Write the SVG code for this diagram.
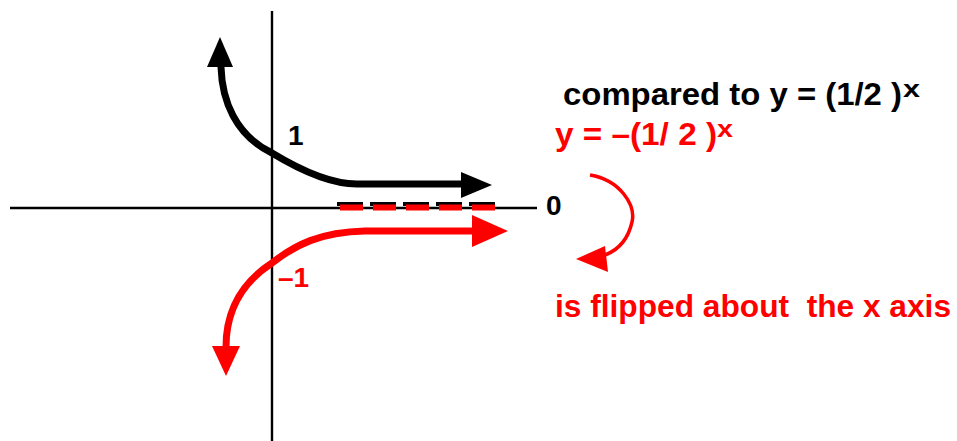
<svg xmlns="http://www.w3.org/2000/svg" width="957" height="441" viewBox="0 0 957 441">
<style>
  .axis{stroke:#000;stroke-width:2.4;fill:none}
  .blk{stroke:#000;stroke-width:7;fill:none}
  .red{stroke:#ff0000;stroke-width:7;fill:none}
  .t{font-family:"Liberation Sans",Arial,sans-serif;font-weight:bold;white-space:pre}
  .tb{fill:#000}
  .tr{fill:#ff0000}
</style>
<rect width="957" height="441" fill="#fff"/>
<g id="axes">
  <line class="axis" x1="272" y1="11" x2="272" y2="441"/>
  <line class="axis" x1="10" y1="208" x2="537" y2="208"/>
</g>
<g id="connectors">
  <g id="asymptote">
    <line x1="337" y1="204" x2="495" y2="204" stroke="#000" stroke-width="4" stroke-dasharray="26 7"/>
    <line x1="340" y1="207.5" x2="495" y2="207.5" stroke="#ff0000" stroke-width="6" stroke-dasharray="23 10"/>
  </g>
  <g id="black-curve">
    <path class="blk" d="M221,67 C222,100 235,135 272,153 C300,170 330,184 357,184 L462,184"/>
    <polygon points="220,37 207,67 233,67" fill="#000"/>
    <polygon points="492,185 461,172 461,198" fill="#000"/>
  </g>
  <g id="red-curve">
    <path class="red" d="M226,347 C226,315 238,285 272,263 C295,245 320,232 365,231 L473,231"/>
    <polygon points="508,231 472,215 472,247" fill="#ff0000"/>
    <polygon points="226,376 212,346 240,346" fill="#ff0000"/>
  </g>
  <g id="flip-arrow">
    <path d="M590,175 C620,180 636,205 632,222 C628,240 618,250 605,255" stroke="#ff0000" stroke-width="3.5" fill="none"/>
    <polygon points="576,259 605,246 608,272" fill="#ff0000"/>
  </g>
</g>
<g id="label-1"><text class="t tb" x="288" y="145" font-size="28">1</text></g>
<g id="label-0"><text class="t tb" x="546" y="215" font-size="28">0</text></g>
<g id="label-minus1"><text class="t tr" x="278" y="287" font-size="28">–1</text></g>
<g id="label-compared">
  <text class="t tb" x="563" y="105" font-size="32" textLength="339" lengthAdjust="spacingAndGlyphs">compared to y = (1/2 )</text>
  <text class="t tb" x="903" y="97" font-size="24" textLength="17" lengthAdjust="spacingAndGlyphs">x</text>
</g>
<g id="label-red-eq">
  <text class="t tr" x="555" y="145" font-size="32" textLength="162" lengthAdjust="spacingAndGlyphs">y = –(1/ 2 )</text>
  <text class="t tr" x="717" y="137" font-size="24" textLength="16" lengthAdjust="spacingAndGlyphs">x</text>
</g>
<g id="label-flipped"><text class="t tr" x="555" y="317" font-size="32" textLength="396" lengthAdjust="spacingAndGlyphs">is flipped about  the x axis</text></g>
</svg>
